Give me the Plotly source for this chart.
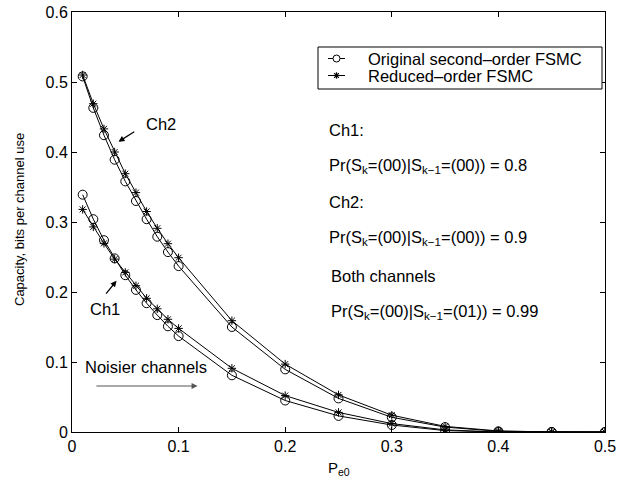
import plotly.graph_objects as go

pe0 = [0.01, 0.02, 0.03, 0.04, 0.05, 0.06, 0.07, 0.08, 0.09, 0.10,
       0.15, 0.20, 0.25, 0.30, 0.35, 0.40, 0.45, 0.50]

ch2_original = [0.508, 0.463, 0.424, 0.389, 0.358, 0.330, 0.304, 0.279, 0.257, 0.237,
                0.150, 0.0895, 0.048, 0.021, 0.007, 0.001, 0.0, 0.0]
ch2_reduced = [0.510, 0.469, 0.433, 0.400, 0.369, 0.342, 0.315, 0.291, 0.269, 0.249,
               0.159, 0.097, 0.053, 0.024, 0.008, 0.0015, 0.0, 0.0]
ch1_original = [0.339, 0.304, 0.274, 0.248, 0.224, 0.203, 0.184, 0.167, 0.151, 0.137,
                0.081, 0.045, 0.023, 0.010, 0.002, 0.0, 0.0, 0.0]
ch1_reduced = [0.318, 0.293, 0.2695, 0.247, 0.228, 0.209, 0.191, 0.176, 0.161, 0.148,
               0.091, 0.052, 0.028, 0.012, 0.003, 0.0, 0.0, 0.0]

x_ticks = [0, 0.1, 0.2, 0.3, 0.4, 0.5]
x_tick_labels = ["0", "0.1", "0.2", "0.3", "0.4", "0.5"]
y_ticks = [0, 0.1, 0.2, 0.3, 0.4, 0.5, 0.6]
y_tick_labels = ["0", "0.1", "0.2", "0.3", "0.4", "0.5", "0.6"]

label_original = "Original second\u2013order FSMC"
label_reduced = "Reduced\u2013order FSMC"

FONT = "Liberation Sans, Arial, Helvetica, sans-serif"
TXT = 16.5
W, H = 632, 482
ML, MR, MT, MB = 72, 27, 12, 50
PW, PH = W - ML - MR, H - MT - MB

def px(x):  # pixel -> paper x
    return (x - ML) / PW

def py(y):  # pixel -> paper y
    return (H - MB - y) / PH

fig = go.Figure()

def add(y, name, symbol, size):
    fig.add_trace(go.Scatter(
        x=pe0, y=y, mode="lines+markers", name=name, showlegend=False,
        line=dict(color="black", width=1),
        marker=dict(symbol=symbol, size=size, color="black",
                    line=dict(color="black", width=1)),
    ))

add(ch2_original, label_original, "circle-open", 9)
add(ch2_reduced, label_reduced, "asterisk-open", 7)
add(ch1_original, label_original, "circle-open", 9)
add(ch1_reduced, label_reduced, "asterisk-open", 7)

ann = []
def text(x, y, s, xanchor="left", size=TXT):
    ann.append(dict(x=x, y=y, xref="x", yref="y", text=s, showarrow=False,
                    xanchor=xanchor, yanchor="middle",
                    font=dict(family=FONT, size=size, color="black")))

def arrow(x0, y0, x1, y1, color="black"):
    ann.append(dict(x=x1, y=y1, ax=x0, ay=y0, xref="x", yref="y",
                    axref="x", ayref="y", text="", showarrow=True,
                    arrowhead=2, arrowsize=1, arrowwidth=1.2, arrowcolor=color))

def pr(a, b, v):
    return ("Pr(S<sub>k</sub>=(" + a + ")|S<sub>k\u22121</sub>=(" + b + ")) = " + v)

text(0.0832, 0.440, "Ch2", "center")
arrow(0.0598, 0.4304, 0.0436, 0.4147)
text(0.0308, 0.1757, "Ch1", "center")
arrow(0.0308, 0.1957, 0.0418, 0.216)
text(0.069, 0.0929, "Noisier channels", "center")
arrow(0.0215, 0.0657, 0.1178, 0.0657, "#555555")

tx = 0.2393
text(tx, 0.431, "Ch1:")
text(tx, 0.380, pr("00", "00", "0.8"))
text(tx, 0.3286, "Ch2:")
text(tx, 0.277, pr("00", "00", "0.9"))
text(tx + 0.002, 0.2229, "Both channels")
text(tx + 0.002, 0.1714, pr("00", "01", "0.99"))

# axis titles
ann.append(dict(x=px(19), y=py(220), xref="paper", yref="paper",
                text="Capacity, bits per channel use", showarrow=False,
                textangle=-90, xanchor="center", yanchor="middle",
                font=dict(family=FONT, size=13, color="black")))
ann.append(dict(x=px(339), y=py(469), xref="paper", yref="paper",
                text="P<sub>e0</sub>", showarrow=False,
                xanchor="center", yanchor="middle",
                font=dict(family=FONT, size=15, color="black")))

# legend (drawn manually to match the compact box)
shapes = []
shapes.append(dict(type="rect", xref="paper", yref="paper",
                   x0=px(318), x1=px(602), y0=py(89), y1=py(47),
                   line=dict(color="black", width=1), fillcolor="white", layer="above"))
rows = [(58.5, label_original, "circle"), (75.5, label_reduced, "asterisk")]
for ry, lab, sym in rows:
    shapes.append(dict(type="line", xref="paper", yref="paper",
                       x0=px(328), x1=px(345), y0=py(ry), y1=py(ry),
                       line=dict(color="black", width=1), layer="above"))
    cx = 336.5
    if sym == "circle":
        r = 3.5
        shapes.append(dict(type="circle", xref="paper", yref="paper",
                           x0=px(cx - r), x1=px(cx + r), y0=py(ry + r), y1=py(ry - r),
                           line=dict(color="black", width=1), fillcolor="white",
                           layer="above"))
    else:
        r = 3.2
        d = r * 0.72
        for (dx0, dy0, dx1, dy1) in [(-r, 0, r, 0), (0, -r, 0, r),
                                     (-d, -d, d, d), (-d, d, d, -d)]:
            shapes.append(dict(type="line", xref="paper", yref="paper",
                               x0=px(cx + dx0), x1=px(cx + dx1),
                               y0=py(ry + dy0), y1=py(ry + dy1),
                               line=dict(color="black", width=1.2), layer="above"))
    ann.append(dict(x=px(366), y=py(ry), xref="paper", yref="paper", text=lab,
                    showarrow=False, xanchor="left", yanchor="middle",
                    font=dict(family=FONT, size=TXT, color="black")))

axis_common = dict(showline=True, linecolor="black", linewidth=1, mirror="ticks",
                   ticks="inside", ticklen=5, tickcolor="black", showgrid=False,
                   zeroline=False, automargin=False,
                   tickfont=dict(family=FONT, size=16, color="black"))

fig.update_layout(
    width=W, height=H,
    margin=dict(l=ML, r=MR, t=MT, b=MB),
    paper_bgcolor="white", plot_bgcolor="white",
    font=dict(family=FONT, size=16, color="black"),
    xaxis=dict(range=[0, 0.5], tickvals=x_ticks, ticktext=x_tick_labels, **axis_common),
    yaxis=dict(range=[0, 0.6], tickvals=y_ticks, ticktext=y_tick_labels, **axis_common),
    annotations=ann,
    shapes=shapes,
    showlegend=False,
)

fig.write_html("out.html", config={"displayModeBar": False},
               post_script="document.body.style.margin='0';document.body.style.overflow='hidden';")
